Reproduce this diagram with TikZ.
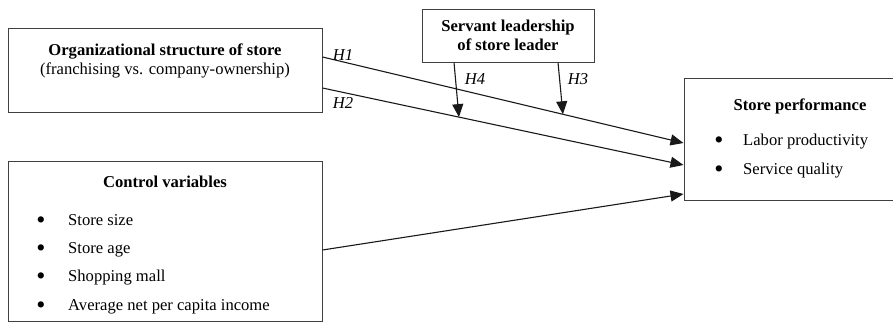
\documentclass[tikz,border=0pt]{standalone}
\usepackage{fontspec}
\setmainfont{Liberation Serif}
\usetikzlibrary{arrows.meta,positioning}

\begin{document}
\begin{tikzpicture}[x=1pt,y=-1pt, font=\fontsize{16.6}{19}\selectfont,
  box/.style={draw=black!75,line width=1pt,inner sep=0pt},
  txt/.style={inner sep=0pt,align=center},
  item/.style={inner sep=0pt,anchor=mid west},
  dot/.style={inner sep=0pt,font=\fontsize{26}{26}\selectfont},
  hyp/.style={inner sep=0pt,font=\fontsize{16.6}{19}\selectfont\itshape},
  arr/.style={-{Triangle[length=13pt,width=11pt]},line width=1.1pt,draw=black!90}]
\useasboundingbox (0,0) rectangle (893,322);
% boxes
\node[box,minimum width=314pt,minimum height=84pt] (org) at (165,70) {};
\node[txt] (orgtxt) at (165,61) {\textbf{Organizational structure of store}\\(franchising vs. company-ownership)};
\node[box,minimum width=172pt,minimum height=53pt] (lead) at (508,35.5) {};
\node[txt] (leadtxt) at (508,35.5) {\textbf{Servant leadership}\\\textbf{of store leader}};
\node[box,minimum width=211pt,minimum height=122pt] (perf) at (789.5,139) {};
\node[txt] (perftxt) at (800,106) {\textbf{Store performance}};
\node[dot] (pb1) at (719,143) {\textbullet};
\node[item] (pi1) at (743,143) {Labor productivity};
\node[dot] (pb2) at (719,172) {\textbullet};
\node[item] (pi2) at (743,172) {Service quality};
\node[box,minimum width=314pt,minimum height=160pt] (ctrl) at (165,241) {};
\node[txt] (ctrltxt) at (165,182) {\textbf{Control variables}};
\node[dot] (cb1) at (41,223) {\textbullet};
\node[item] (ci1) at (68,223) {Store size};
\node[dot] (cb2) at (41,251) {\textbullet};
\node[item] (ci2) at (68,251) {Store age};
\node[dot] (cb3) at (41,279) {\textbullet};
\node[item] (ci3) at (68,279) {Shopping mall};
\node[dot] (cb4) at (41,308) {\textbullet};
\node[item] (ci4) at (68,308) {Average net per capita income};
% paths
\draw[arr] ([yshift=13pt]org.east) -- coordinate[pos=0.666] (m1) ([yshift=-4pt]perf.west);
\draw[arr] ([yshift=-18pt]org.east) -- coordinate[pos=0.378] (m2) ([yshift=-26pt]perf.west);
\draw[arr] ([yshift=-9pt]ctrl.east) -- ([yshift=-55pt]perf.west);
\draw[arr] ([xshift=50pt]lead.south) -- (m1);
\draw[arr] ([xshift=-54pt]lead.south) -- (m2);
% labels
\node[hyp] (h1) at (343,55) {H1};
\node[hyp] (h2) at (343,103) {H2};
\node[hyp] (h3) at (578,79) {H3};
\node[hyp] (h4) at (475,79) {H4};
\end{tikzpicture}
\end{document}
